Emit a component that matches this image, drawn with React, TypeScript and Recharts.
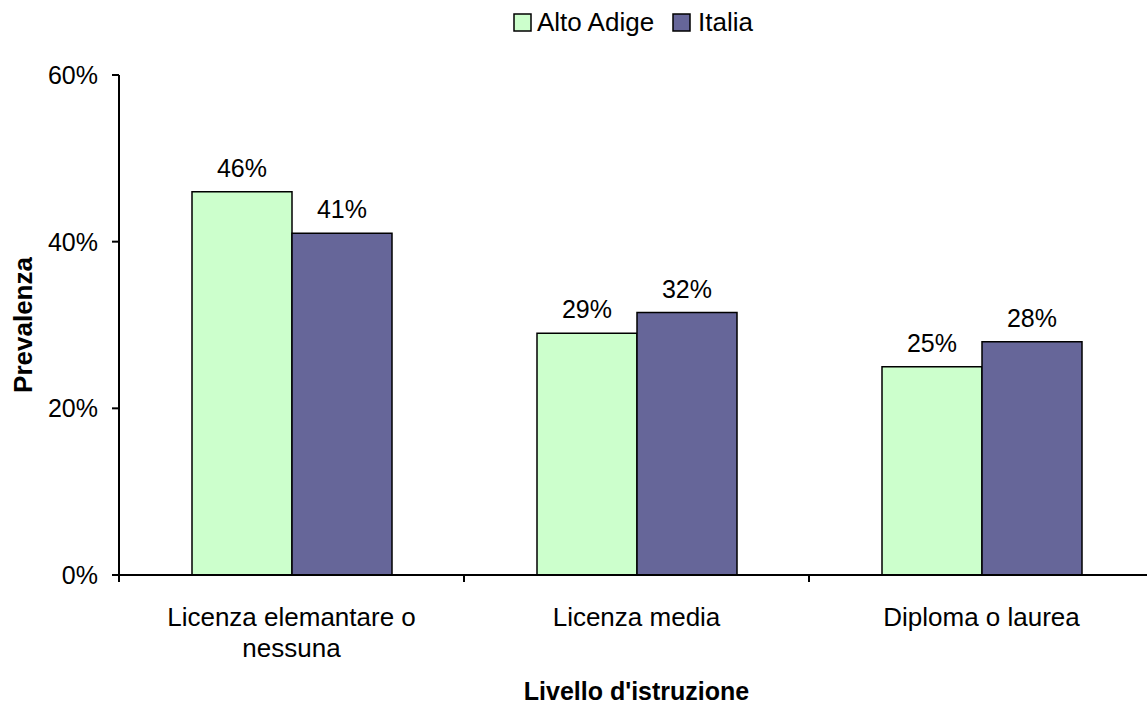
import React from 'react';
import { Bar, BarChart, LabelList, Label, XAxis, YAxis } from 'recharts';

// Prevalenza per livello d'istruzione: Alto Adige vs Italia
const categories = ['Licenza elemantare o\nnessuna', 'Licenza media', 'Diploma o laurea'];
const altoAdige = [46, 29, 25];
const italia = [41, 31.5, 28];
const series = [
  { key: 'altoAdige', name: 'Alto Adige', color: '#CCFFCC' },
  { key: 'italia', name: 'Italia', color: '#666699' },
];
const yTicks = [0, 20, 40, 60];

const data = categories.map((cat, i) => ({
  cat,
  altoAdige: altoAdige[i],
  italia: italia[i],
}));

const FONT = '"Liberation Sans", Arial, sans-serif';
const FS = 25;
const FS_TEXT = 26;

// category name centred in its band, tick marks on the band edges
function CategoryTick(props: any) {
  const { x, y, payload, index, visibleTicksCount } = props;
  const half = Number(payload.offset) || 0;
  const lines = String(payload.value).split('\n');
  const edges = [x - half];
  if (index === visibleTicksCount - 1) edges.push(x + half);
  return (
    <g>
      {edges.map((ex, i) => (
        <line key={i} x1={ex} y1={y} x2={ex} y2={y + 7} stroke="#000" strokeWidth={2} />
      ))}
      <text x={x} y={y} textAnchor="middle" fontSize={FS_TEXT} fill="#000" fontFamily={FONT}>
        {lines.map((l, i) => (
          <tspan key={i} x={x} dy={i === 0 ? 51 : 31}>
            {l}
          </tspan>
        ))}
      </text>
    </g>
  );
}

function YTitle(props: any) {
  const { viewBox } = props;
  const cy = viewBox.y + viewBox.height / 2;
  return (
    <text
      x={32}
      y={cy}
      transform={`rotate(-90, 32, ${cy})`}
      textAnchor="middle"
      fontSize={FS_TEXT}
      fontWeight="bold"
      fill="#000"
      fontFamily={FONT}
    >
      Prevalenza
    </text>
  );
}

function LegendOverlay() {
  const items = [
    { box: 514, text: 537 },
    { box: 673, text: 698 },
  ];
  return (
    <svg
      width={1147}
      height={45}
      style={{ position: 'absolute', left: 0, top: 0, fontFamily: FONT }}
    >
      {series.map((s, i) => (
        <g key={s.key}>
          <rect
            x={items[i].box}
            y={14}
            width={17}
            height={17}
            fill={s.color}
            stroke="#000"
            strokeWidth={1.5}
          />
          <text x={items[i].text} y={31} fontSize={FS_TEXT} fill="#000">
            {s.name}
          </text>
        </g>
      ))}
    </svg>
  );
}

export default function App() {
  return (
    <div
      style={{
        position: 'absolute',
        left: 0,
        top: 0,
        width: 1147,
        height: 704,
        overflow: 'hidden',
        background: '#fff',
        fontFamily: FONT,
      }}
    >
      <BarChart
        width={1154}
        height={704}
        data={data}
        margin={{ top: 75, right: 0, bottom: 0, left: 0 }}
        barCategoryGap={73}
        barGap={0}
        style={{ fontFamily: FONT }}
      >
        <XAxis
          dataKey="cat"
          interval={0}
          tick={<CategoryTick />}
          tickLine={false}
          tickSize={0}
          tickMargin={0}
          axisLine={{ stroke: '#000', strokeWidth: 2 }}
          height={129}
        >
          <Label
            value="Livello d'istruzione"
            position="insideBottom"
            offset={4}
            fontSize={FS}
            fontWeight="bold"
            fill="#000"
          />
        </XAxis>
        <YAxis
          width={119}
          domain={[0, 60]}
          ticks={yTicks}
          tickFormatter={(v) => `${v}%`}
          tick={{ fill: '#000', fontSize: FS }}
          tickSize={7}
          tickMargin={14}
          axisLine={{ stroke: '#000', strokeWidth: 2 }}
          tickLine={{ stroke: '#000', strokeWidth: 2 }}
        >
          <Label content={<YTitle />} />
        </YAxis>
        {series.map((s) => (
          <Bar
            key={s.key}
            dataKey={s.key}
            name={s.name}
            fill={s.color}
            stroke="#000"
            strokeWidth={1.5}
            isAnimationActive={false}
          >
            <LabelList
              dataKey={s.key}
              position="top"
              offset={15}
              formatter={(v: any) => `${Math.round(Number(v))}%`}
              fill="#000"
              fontSize={FS}
            />
          </Bar>
        ))}
      </BarChart>
      <LegendOverlay />
    </div>
  );
}
